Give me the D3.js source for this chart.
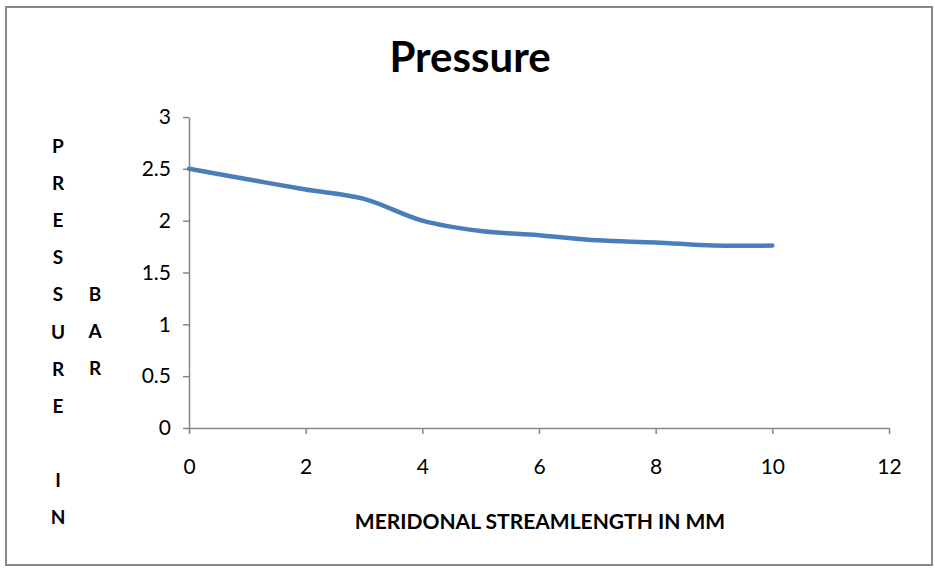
<!DOCTYPE html>
<html lang="en">
<head>
    <meta charset="UTF-8">
    <title>Pressure</title>
    <script src="https://d3js.org/d3.v7.min.js"></script>
    <style>
        body { margin: 0; background: #ffffff; }
        text { font-family: Lato, "Open Sans", sans-serif; fill: #000; }
    </style>
</head>
<body>
    <div id="chart"></div>

    <script>
    // Chart data
    const streamLength = [0, 1, 2, 3, 4, 5, 6, 7, 8, 9, 10];
    const pressure = [2.5, 2.4, 2.3, 2.21, 2.0, 1.9, 1.86, 1.81, 1.79, 1.76, 1.76];
    const xTicks = [0, 2, 4, 6, 8, 10, 12];
    const yTicks = [0, 0.5, 1, 1.5, 2, 2.5, 3];
    const yLabelCol1 = ["P", "R", "E", "S", "S", "U", "R", "E", "", "I", "N"];
    const yLabelCol2 = ["B", "A", "R"];

    const width = 935;
    const height = 569;
    const margin = { left: 189, right: 46, top: 117, bottom: 141 };

    const svg = d3.select("#chart")
        .append("svg")
        .attr("width", width)
        .attr("height", height);

    // outer frame
    svg.append("rect")
        .attr("x", 6).attr("y", 7)
        .attr("width", 926).attr("height", 558)
        .attr("fill", "none")
        .attr("stroke", "#898989")
        .attr("stroke-width", 2);

    const x = d3.scaleLinear()
        .domain([0, 12])
        .range([margin.left, width - margin.right]);

    const y = d3.scaleLinear()
        .domain([0, 3])
        .range([height - margin.bottom, margin.top]);

    // axes
    const xAxis = svg.append("g")
        .attr("transform", `translate(0,${y(0)})`)
        .call(d3.axisBottom(x).tickValues(xTicks).tickSize(6).tickPadding(25).tickSizeOuter(0));

    const yAxis = svg.append("g")
        .attr("transform", `translate(${x(0)},0)`)
        .call(d3.axisLeft(y).tickValues(yTicks).tickSize(6).tickPadding(12).tickSizeOuter(0)
            .tickFormat(d3.format("")));

    [xAxis, yAxis].forEach(g => {
        g.select(".domain").attr("stroke", "#868686").attr("stroke-width", 1.5);
        g.selectAll(".tick line").attr("stroke", "#868686").attr("stroke-width", 1.5);
        g.selectAll(".tick text")
            .attr("fill", "#000")
            .style("font-family", "Lato, 'Open Sans', sans-serif")
            .style("font-size", "21px");
    });

    // line
    const line = d3.line()
        .x((d, i) => x(streamLength[i]))
        .y(d => y(d))
        .curve(d3.curveCatmullRom.alpha(0.5));

    svg.append("path")
        .datum(pressure)
        .attr("d", line)
        .attr("fill", "none")
        .attr("stroke", "#4a7ebb")
        .attr("stroke-width", 4.5)
        .attr("stroke-linecap", "round");

    // title
    svg.append("text")
        .attr("x", 470)
        .attr("y", 72)
        .attr("text-anchor", "middle")
        .style("font-size", "42px")
        .style("font-weight", "bold")
        .text("Pressure");

    // x axis title
    svg.append("text")
        .attr("x", 540)
        .attr("y", 529)
        .attr("text-anchor", "middle")
        .style("font-size", "21px")
        .style("font-weight", "bold")
        .text("MERIDONAL STREAMLENGTH IN MM");

    // stacked y axis title
    svg.selectAll("text.ylab1")
        .data(yLabelCol1)
        .enter()
        .append("text")
        .attr("class", "ylab1")
        .attr("x", 58)
        .attr("y", (d, i) => 153 + i * 37.1)
        .attr("text-anchor", "middle")
        .style("font-size", "19px")
        .style("font-weight", "bold")
        .text(d => d);

    svg.selectAll("text.ylab2")
        .data(yLabelCol2)
        .enter()
        .append("text")
        .attr("class", "ylab2")
        .attr("x", 95)
        .attr("y", (d, i) => 301 + i * 37.1)
        .attr("text-anchor", "middle")
        .style("font-size", "19px")
        .style("font-weight", "bold")
        .text(d => d);
    </script>
</body>
</html>
